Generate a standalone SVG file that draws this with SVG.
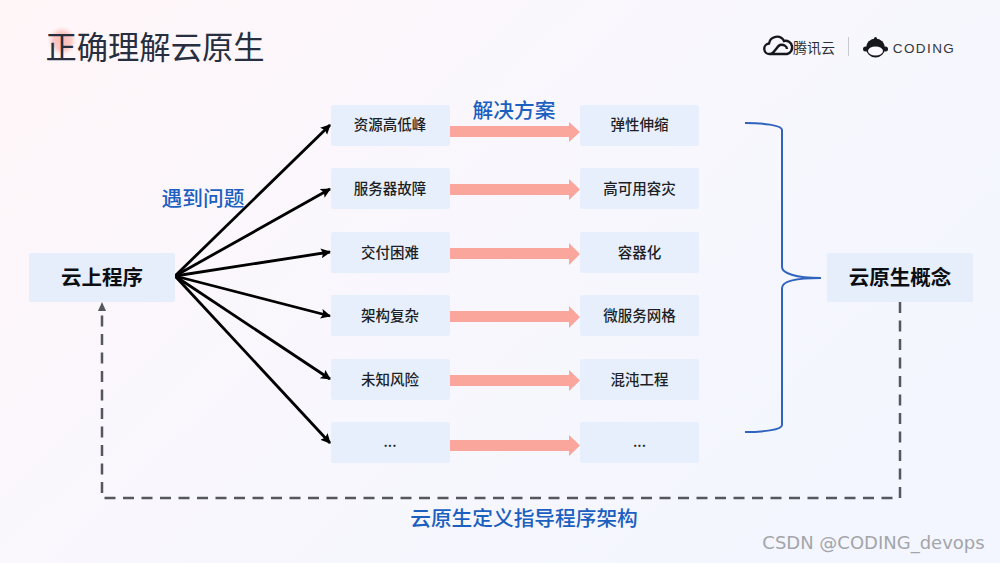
<svg xmlns="http://www.w3.org/2000/svg" width="1000" height="563" viewBox="0 0 1000 563">
<style>
text{font-family:"Noto Sans CJK SC","Liberation Sans",sans-serif;text-anchor:middle}
.box{fill:#e8effc}
.big{fill:#e6eefc}
.t{font-size:14.5px;fill:#1c1f26;font-weight:500}
.b{font-size:20.500px;fill:#0c0e12;font-weight:700}
.h{font-size:20.700px;fill:#1b5fc0;font-weight:500}
.blk{stroke:#000;stroke-width:2.800;fill:none;marker-end:url(#ah)}
.pk{fill:#fba69c}
</style>
<defs>
<linearGradient id="bg" x1="0" y1="0" x2="1" y2="0.6"><stop offset="0" stop-color="#fff6f8"/><stop offset="0.5" stop-color="#f9f7fd"/><stop offset="1" stop-color="#f3f6fe"/></linearGradient>
<radialGradient id="dot"><stop offset="0" stop-color="#fbb9b4"/><stop offset="0.6" stop-color="#fcc9c6"/><stop offset="1" stop-color="#fde4e6" stop-opacity="0"/></radialGradient>
<marker id="ah" markerUnits="userSpaceOnUse" markerWidth="12" markerHeight="12" refX="9" refY="5" orient="auto"><path d="M0 0L10 5L0 10L2 5Z" fill="#000"/></marker>
</defs>
<rect width="1000" height="563" fill="url(#bg)"/>
<circle cx="62" cy="41" r="15" fill="url(#dot)"/>
<text x="155" y="59" style="font-size:31.3px;fill:#262e40;font-weight:400">正确理解云原生</text>
<g id="logo">
<path d="M770 54a5 5 0 0 1-1-10.500a8 8 0 0 1 15-2.500a6.500 6.500 0 0 1 3 13ZM770 54c4 0 7-8 10-9c3-1 7 1 7 4" fill="none" stroke="#15171c" stroke-width="2.400"/>
<text x="814" y="53" style="font-size:14px;fill:#2b2d33">腾讯云</text>
<rect x="848" y="37" width="1" height="19" fill="#c9cad1"/>
<circle cx="875.500" cy="48" r="9.500" fill="#15171c"/><circle cx="865.500" cy="49" r="2.500" fill="#15171c"/><circle cx="885.500" cy="49" r="2.500" fill="#15171c"/><circle cx="875.500" cy="38.500" r="1.500" fill="#15171c"/>
<ellipse cx="875.500" cy="51" rx="7.500" ry="4.500" fill="#fbf9fd"/>
<text x="924" y="53" style="font-family:'Liberation Sans',sans-serif;font-size:13.500px;letter-spacing:1.400px;fill:#33353b">CODING</text>
</g>
<g id="connectors">
<path class="blk" d="M175 276L330 125"/>
<path class="blk" d="M175 276L330 189"/>
<path class="blk" d="M175 276L330 252"/>
<path class="blk" d="M175 276L330 316"/>
<path class="blk" d="M175 276L330 379"/>
<path class="blk" d="M175 276L330 443"/>
<path class="pk" d="M450 126H569V122L580 132L569 142V137H450Z"/>
<path class="pk" d="M450 184H569V179L580 189.500L569 200V195H450Z"/>
<path class="pk" d="M450 248H569V243L580 254L569 265V259H450Z"/>
<path class="pk" d="M450 311H569V306L580 317L569 328V322H450Z"/>
<path class="pk" d="M450 375H569V370L580 380.500L569 391V386H450Z"/>
<path class="pk" d="M450 440H569V435L580 445.500L569 456V451H450Z"/>
<path d="M745 123C762 123 782 125 782 130V267C782 273 795 278 821 278C795 278 782 281 782 288V425C782 430 762 432 745 432" fill="none" stroke="#2f63bd" stroke-width="2"/>
<path d="M900 302V498H102V310" fill="none" stroke="#55565e" stroke-width="2.500" stroke-dasharray="11 7.500"/>
<path d="M102 302L106 311H98Z" fill="#55565e"/>
</g>
<g id="n1"><rect class="big" x="29" y="253" width="146" height="49" rx="2"/><text class="b" x="102" y="285">云上程序</text></g>
<g id="n2"><rect class="box" x="331" y="105" width="119" height="41" rx="2"/><text class="t" x="390" y="130">资源高低峰</text></g>
<g id="n3"><rect class="box" x="331" y="168" width="119" height="41" rx="2"/><text class="t" x="390" y="194">服务器故障</text></g>
<g id="n4"><rect class="box" x="331" y="232" width="119" height="41" rx="2"/><text class="t" x="390" y="258">交付困难</text></g>
<g id="n5"><rect class="box" x="331" y="295" width="119" height="41" rx="2"/><text class="t" x="390" y="321">架构复杂</text></g>
<g id="n6"><rect class="box" x="331" y="359" width="119" height="41" rx="2"/><text class="t" x="390" y="385">未知风险</text></g>
<g id="n7"><rect class="box" x="331" y="422" width="119" height="41" rx="2"/><text class="t" x="390" y="447">...</text></g>
<g id="n8"><rect class="box" x="580" y="105" width="119" height="41" rx="2"/><text class="t" x="639.500" y="130">弹性伸缩</text></g>
<g id="n9"><rect class="box" x="580" y="168" width="119" height="41" rx="2"/><text class="t" x="639.500" y="194">高可用容灾</text></g>
<g id="n10"><rect class="box" x="580" y="232" width="119" height="41" rx="2"/><text class="t" x="639.500" y="258">容器化</text></g>
<g id="n11"><rect class="box" x="580" y="295" width="119" height="41" rx="2"/><text class="t" x="639.500" y="321">微服务网格</text></g>
<g id="n12"><rect class="box" x="580" y="359" width="119" height="41" rx="2"/><text class="t" x="639.500" y="385">混沌工程</text></g>
<g id="n13"><rect class="box" x="580" y="422" width="119" height="41" rx="2"/><text class="t" x="639.500" y="447">...</text></g>
<g id="n14"><rect class="big" x="827" y="253" width="146" height="49" rx="2"/><text class="b" x="900" y="285">云原生概念</text></g>
<text class="h" x="514" y="118">解决方案</text>
<text class="h" x="203" y="206">遇到问题</text>
<text class="h" x="524" y="526">云原生定义指导程序架构</text>
<text x="873.500" y="549" style="font-family:'DejaVu Sans',sans-serif;font-size:18px;fill:#a3a5aa">CSDN @CODING_devops</text>
</svg>
